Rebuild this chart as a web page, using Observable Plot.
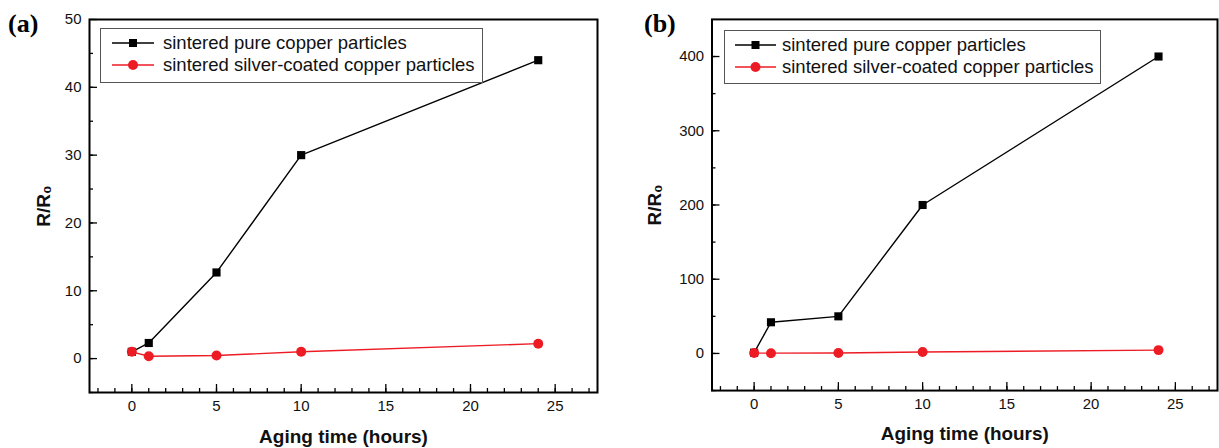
<!DOCTYPE html>
<html><head><meta charset="utf-8">
<script src="https://cdn.jsdelivr.net/npm/d3@7"></script>
<script src="https://cdn.jsdelivr.net/npm/@observablehq/plot@0.6"></script>
<style>
html,body{margin:0;padding:0;background:#fff;overflow:hidden}
#root{position:relative;width:1219px;height:448px;overflow:hidden;font-family:Arial,"Liberation Sans",sans-serif}
.panel{position:absolute;top:0}
.tag{position:absolute;font-family:"Times New Roman","Liberation Serif",serif;font-weight:bold;font-size:26px;line-height:26px;color:#000}
.legend{position:absolute;border:1px solid #555;background:#fff;box-sizing:border-box}
.legend .row{position:absolute;display:flex;align-items:center;height:22px;white-space:nowrap;font-size:18.5px;color:#111}
.legend svg{display:block;overflow:visible}
</style>
</head><body><div id="root"></div>
<script>
// ---- data ----
const hours = [0, 1, 5, 10, 24];
const seriesNames = ["sintered pure copper particles", "sintered silver-coated copper particles"];
const seriesColors = ["#000000", "#ed1c24"];
const pureA = [1, 2.3, 12.7, 30, 44];
const silverA = [1, 0.35, 0.45, 1.0, 2.2];
const pureB = [1, 42, 50, 200, 400];
const silverB = [0.5, 0.4, 0.6, 1.9, 4.5];
const xMajor = [0, 5, 10, 15, 20, 25];
const xMinor = [-2, -1, 0, 1, 2, 3, 4, 5, 6, 7, 8, 9, 10, 11, 12, 13, 14, 15, 16, 17, 18, 19, 20, 21, 22, 23, 24, 25, 26, 27];
const yMajorA = [0, 10, 20, 30, 40, 50];
const yMinorA = [-5, 0, 5, 10, 15, 20, 25, 30, 35, 40, 45];
const yMajorB = [0, 100, 200, 300, 400];
const yMinorB = [-50, 0, 50, 100, 150, 200, 250, 300, 350, 400];
const panelTags = ["(a)", "(b)"];
const xTitle = "Aging time (hours)";
const yTitle = "R/R\u2080";

const root = document.getElementById("root");

function rows(vals) { return hours.map((h, i) => ({h, v: vals[i]})); }

function makePanel(cfg) {
  const pure = rows(cfg.pure), silver = rows(cfg.silver);
  const chart = Plot.plot({
    width: cfg.width, height: 448,
    marginLeft: cfg.marginLeft, marginRight: cfg.marginRight, marginTop: 19, marginBottom: 56,
    x: {domain: [-2.5, 27.5], label: null},
    y: {domain: cfg.yDomain, label: null},
    style: {fontFamily: "Arial, 'Liberation Sans', sans-serif", fontSize: "15px", color: "#111", background: "transparent", overflow: "visible"},
    marks: [
      Plot.axisX(xMinor, {tickSize: -4, tickFormat: () => "", stroke: "#000", strokeWidth: 1.3}),
      Plot.axisX(xMajor, {tickSize: -8, tickFormat: () => "", stroke: "#000", strokeWidth: 1.3}),
      Plot.axisX(xMajor, {tickSize: 0, tickPadding: 8, fill: "#111"}),
      Plot.axisY(cfg.yMinor, {tickSize: -4, tickFormat: () => "", stroke: "#000", strokeWidth: 1.3}),
      Plot.axisY(cfg.yMajor, {tickSize: -8, tickFormat: () => "", stroke: "#000", strokeWidth: 1.3}),
      Plot.axisY(cfg.yMajor, {tickSize: 0, tickPadding: 8, fill: "#111"}),
      Plot.frame({stroke: "#000", strokeWidth: 2}),
      Plot.line(pure, {x: "h", y: "v", stroke: seriesColors[0], strokeWidth: 1.4}),
      Plot.dot(pure, {x: "h", y: "v", symbol: "square", r: 4.6, fill: seriesColors[0], stroke: "none"}),
      Plot.line(silver, {x: "h", y: "v", stroke: seriesColors[1], strokeWidth: 1.4}),
      Plot.dot(silver, {x: "h", y: "v", symbol: "circle", r: 5, fill: seriesColors[1], stroke: "none"}),
      Plot.text([xTitle], {frameAnchor: "bottom", dy: 44, fontWeight: "bold", fontSize: 19, fill: "#111", lineAnchor: "middle", textAnchor: "middle"}),
      Plot.text([yTitle], {frameAnchor: "left", dx: cfg.yTitleDx, rotate: -90, fontWeight: "bold", fontSize: 19, fill: "#111", lineAnchor: "middle", textAnchor: "middle"})
    ]
  });
  const wrap = document.createElement("div");
  wrap.className = "panel";
  wrap.style.left = cfg.left + "px";
  wrap.appendChild(chart);
  root.appendChild(wrap);

  const tag = document.createElement("div");
  tag.className = "tag";
  tag.style.left = cfg.tagLeft + "px";
  tag.style.top = "11px";
  tag.textContent = cfg.tag;
  root.appendChild(tag);

  const lg = document.createElement("div");
  lg.className = "legend";
  const L = cfg.legend;
  lg.style.left = L.left + "px"; lg.style.top = L.top + "px";
  lg.style.width = L.w + "px"; lg.style.height = L.h + "px";
  seriesNames.forEach((name, i) => {
    const row = document.createElement("div");
    row.className = "row";
    row.style.left = L.swLeft + "px";
    row.style.top = (L.row0 + i * L.rowGap - 11) + "px";
    const ns = "http://www.w3.org/2000/svg";
    const svg = document.createElementNS(ns, "svg");
    svg.setAttribute("width", L.swW); svg.setAttribute("height", 22);
    const ln = document.createElementNS(ns, "line");
    ln.setAttribute("x1", 0); ln.setAttribute("x2", L.swW); ln.setAttribute("y1", 11); ln.setAttribute("y2", 11);
    ln.setAttribute("stroke", seriesColors[i]); ln.setAttribute("stroke-width", 1.4);
    svg.appendChild(ln);
    let mk;
    if (i === 0) {
      mk = document.createElementNS(ns, "rect");
      mk.setAttribute("x", L.swW / 2 - 4); mk.setAttribute("y", 7); mk.setAttribute("width", 8); mk.setAttribute("height", 8);
    } else {
      mk = document.createElementNS(ns, "circle");
      mk.setAttribute("cx", L.swW / 2); mk.setAttribute("cy", 11); mk.setAttribute("r", 5);
    }
    mk.setAttribute("fill", seriesColors[i]);
    svg.appendChild(mk);
    row.appendChild(svg);
    const t = document.createElement("span");
    t.style.marginLeft = L.gap + "px";
    t.textContent = name;
    row.appendChild(t);
    lg.appendChild(row);
  });
  root.appendChild(lg);
}

makePanel({
  left: 0, width: 609, marginLeft: 89, marginRight: 12,
  yDomain: [-5, 50], yMajor: yMajorA, yMinor: yMinorA,
  pure: pureA, silver: silverA, yTitleDx: -46, tag: panelTags[0], tagLeft: 8,
  legend: {left: 100, top: 28, w: 383, h: 55, swLeft: 11, swW: 42, gap: 9, row0: 14, rowGap: 22}
});
makePanel({
  left: 610, width: 612, marginLeft: 102, marginRight: 2,
  yDomain: [-50, 450], yMajor: yMajorB, yMinor: yMinorB,
  pure: pureB, silver: silverB, yTitleDx: -57, tag: panelTags[1], tagLeft: 644,
  legend: {left: 724, top: 30, w: 377, h: 54, swLeft: 10, swW: 41, gap: 6, row0: 14, rowGap: 22}
});
</script>
</body></html>
